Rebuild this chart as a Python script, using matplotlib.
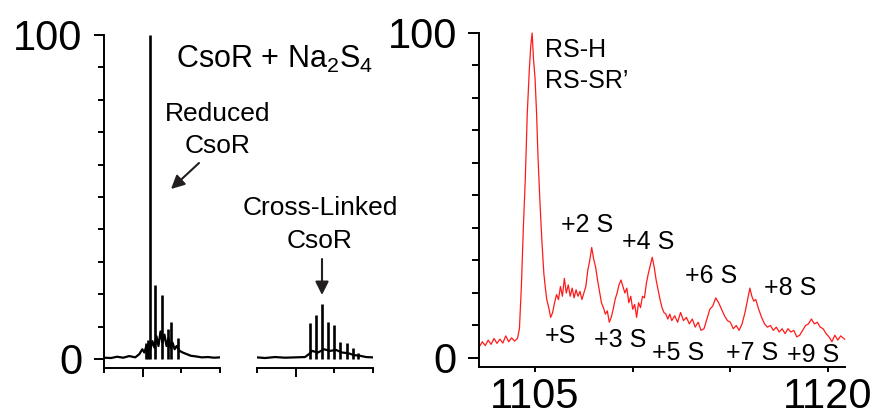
import matplotlib
matplotlib.use("Agg")
import matplotlib.pyplot as plt
from matplotlib.patches import FancyArrowPatch

plt.rcParams['font.family'] = ['Liberation Sans', 'DejaVu Sans']
plt.rcParams['mathtext.fontset'] = 'custom'
plt.rcParams['mathtext.rm'] = 'Liberation Sans'
plt.rcParams['mathtext.it'] = 'Liberation Sans:italic'

# ---- left panel, first segment (reduced CsoR) ----
seg1_base_x = [0.0, 1.83, 3.39, 4.96, 6.52, 8.09, 9.13, 9.91, 10.43, 10.96, 11.48, 12.0,
               12.52, 13.04, 13.57, 14.09, 14.61, 15.13, 15.65, 16.17, 16.70, 17.22,
               17.74, 18.26, 18.78, 19.57, 20.35, 21.39, 22.43, 23.74, 25.30, 26.87,
               28.43, 30.0]
seg1_base_y = [0.4, 0.3, 0.7, 0.4, 0.9, 0.5, 1.5, 3.0, 2.0, 4.0, 2.5, 3.0,
               5.5, 3.5, 7.0, 4.0, 8.5, 5.0, 7.5, 4.0, 6.5, 3.5,
               5.0, 3.0, 4.0, 2.5, 2.0, 1.5, 1.0, 0.8, 0.5, 0.6,
               0.4, 0.5]
seg1_peak_x = [10.83, 11.35, 11.92, 13.30, 14.95, 16.62, 17.40, 19.12]
seg1_peak_y = [5.0, 6.0, 100.0, 22.8, 19.8, 9.3, 11.4, 6.5]

# ---- left panel, second segment (cross-linked CsoR) ----
seg2_base_x = [40.0, 42.07, 44.66, 47.24, 49.83, 52.41, 53.45, 54.22, 55.78, 57.33,
               58.88, 60.43, 61.98, 63.53, 65.09, 66.64, 68.19, 70.0]
seg2_base_y = [0.5, 0.3, 0.6, 0.4, 0.5, 0.6, 1.5, 2.5, 2.0, 3.0,
               2.5, 2.8, 2.0, 1.8, 1.2, 1.0, 0.6, 0.5]
seg2_peak_x = [53.71, 55.18, 56.73, 58.28, 59.91, 61.47, 63.20, 64.83, 66.12]
seg2_peak_y = [11.0, 13.6, 17.0, 11.4, 10.5, 5.2, 5.0, 3.4, 1.8]

# ---- right panel, zoomed spectrum ----
mz = [1102.15, 1102.3, 1102.45, 1102.6, 1102.75, 1102.9, 1103.05, 1103.2, 1103.35, 1103.5,
      1103.65, 1103.8, 1103.95, 1104.1, 1104.2, 1104.3, 1104.4, 1104.5, 1104.6, 1104.7,
      1104.78, 1104.85, 1104.92, 1105.0, 1105.08, 1105.15, 1105.25, 1105.35, 1105.45, 1105.52,
      1105.6, 1105.7, 1105.8, 1105.9, 1106.0, 1106.1, 1106.2, 1106.3, 1106.4, 1106.5,
      1106.6, 1106.7, 1106.8, 1106.9, 1107.0, 1107.1, 1107.2, 1107.3, 1107.4, 1107.5,
      1107.6, 1107.7, 1107.8, 1107.9, 1108.0, 1108.1, 1108.2, 1108.3, 1108.4, 1108.5,
      1108.6, 1108.7, 1108.8, 1108.9, 1109.0, 1109.1, 1109.2, 1109.3, 1109.4, 1109.5,
      1109.6, 1109.7, 1109.8, 1109.9, 1110.0, 1110.1, 1110.2, 1110.3, 1110.4, 1110.5,
      1110.6, 1110.7, 1110.8, 1110.9, 1111.0, 1111.1, 1111.2, 1111.3, 1111.4, 1111.5,
      1111.6, 1111.7, 1111.8, 1111.9, 1112.0, 1112.15, 1112.3, 1112.45, 1112.6, 1112.75,
      1112.9, 1113.05, 1113.2, 1113.35, 1113.5, 1113.65, 1113.8, 1113.95, 1114.1, 1114.25,
      1114.4, 1114.55, 1114.7, 1114.85, 1115.0, 1115.15, 1115.3, 1115.45, 1115.6, 1115.75,
      1115.9, 1116.0, 1116.1, 1116.2, 1116.3, 1116.45, 1116.6, 1116.75, 1116.9, 1117.05,
      1117.2, 1117.35, 1117.5, 1117.65, 1117.8, 1117.95, 1118.1, 1118.25, 1118.4, 1118.55,
      1118.7, 1118.85, 1119.0, 1119.15, 1119.3, 1119.45, 1119.6, 1119.75, 1119.9, 1120.05,
      1120.2, 1120.35, 1120.5, 1120.65, 1120.85]
intensity = [3.5, 5.0, 3.8, 5.5, 4.2, 6.0, 4.5, 5.8, 4.6, 6.8,
             5.0, 6.2, 5.2, 6.0, 9.0, 22, 40, 55, 75, 88,
             96, 100, 92, 86, 75, 62, 48, 36, 26, 22,
             18, 15.5, 12.5, 14, 17, 19.5, 18, 22, 19, 24.5,
             20, 22.5, 19, 21.5, 18.5, 21, 19, 20.5, 18, 20,
             22, 27, 30, 34, 30.5, 28, 24, 20.5, 17, 15.5,
             13.5, 14.5, 11, 12.5, 15, 18, 20, 22.5, 24, 22,
             20, 21.5, 17, 19, 15, 16.5, 12.5, 17, 15.5, 19,
             18.5, 23, 26, 28.5, 31, 28, 24, 21, 18, 15.5,
             14, 13.5, 12, 13.5, 11.5, 13, 11, 14, 11.5, 12.5,
             10.5, 12, 9.5, 11, 8.5, 9, 12, 15, 16, 18.5,
             17, 15, 13, 11.5, 11, 9, 10, 8.5, 10.5, 14,
             18.5, 21.5, 19, 17.5, 18, 15, 12.5, 10.5, 9.5, 10,
             8.5, 9.5, 8, 9, 7.5, 9, 8, 8.5, 6.5, 7,
             8.5, 10, 10.5, 12, 10.5, 11, 9.5, 9, 7.5, 6.5,
             5, 7, 5.5, 6.8, 5.8]

W, H = 881, 408
fig = plt.figure(figsize=(W / 100, H / 100), dpi=100)


def box(x0, x1, ytop, ybot):
    return [x0 / W, 1 - ybot / H, (x1 - x0) / W, (ybot - ytop) / H]


def fpos(x, y):
    return x / W, 1 - y / H


ax1 = fig.add_axes(box(104, 220, 35, 368))
ax2 = fig.add_axes(box(257, 373, 35, 368))
ax3 = fig.add_axes(box(479, 845, 33, 367))

ink = 'black'
ax1.plot(seg1_base_x, seg1_base_y, color=ink, lw=1.6)
ax1.vlines(seg1_peak_x, 0, seg1_peak_y, color=ink, lw=1.9, clip_on=False)
ax2.plot(seg2_base_x, seg2_base_y, color=ink, lw=1.6)
ax2.vlines(seg2_peak_x, 0, seg2_peak_y, color=ink, lw=1.9)
ax3.plot(mz, intensity, color='#ff1a1a', lw=0.9, clip_on=False)

for ax in (ax1, ax2, ax3):
    for s in ('top', 'right'):
        ax.spines[s].set_visible(False)
    for s in ('left', 'bottom'):
        ax.spines[s].set_linewidth(1.4)
    ax.tick_params(which='both', width=1.4, labelsize=30, direction='out')

ax1.set_xlim(0, 30)
ax2.set_xlim(40, 70)
ax1.set_ylim(-2.78, 100)
ax2.set_ylim(-2.78, 100)
ax1.set_xticks([10])
ax1.set_xticks([0, 20, 30], minor=True)
ax2.set_xticks([50])
ax2.set_xticks([40, 60, 70], minor=True)
for ax in (ax1, ax2):
    ax.set_xticklabels([])
    ax.tick_params(axis='x', which='major', length=6.5)
    ax.tick_params(axis='x', which='minor', length=3.6)
ax2.spines['left'].set_visible(False)
ax2.set_yticks([])

ax1.set_yticks([0, 100])
ax1.set_yticks(range(10, 100, 10), minor=True)
ax1.tick_params(axis='y', which='major', length=7.2, pad=8.6)
ax1.tick_params(axis='y', which='minor', length=4.3)

ax3.set_xlim(1102.13, 1120.87)
ax3.set_ylim(-2.77, 100)
ax3.set_xticks([1105, 1110, 1115, 1120])
ax3.set_xticklabels(['1105', '', '', '1120'])
ax3.tick_params(axis='x', length=3.6, pad=3.5)
ax3.set_yticks([0, 100])
ax3.set_yticks(range(10, 100, 10), minor=True)
ax3.tick_params(axis='y', which='major', length=8, pad=8)
ax3.tick_params(axis='y', which='minor', length=5)

# annotations, left panel
fig.text(*fpos(274, 68), r'CsoR + Na$_2$S$_4$', fontsize=22, ha='center', va='baseline')
fig.text(*fpos(218, 121), 'Reduced', fontsize=19, ha='center', va='baseline')
fig.text(*fpos(218, 153), 'CsoR', fontsize=19, ha='center', va='baseline')
fig.text(*fpos(320, 215), 'Cross-Linked', fontsize=19, ha='center', va='baseline')
fig.text(*fpos(320, 248), 'CsoR', fontsize=19, ha='center', va='baseline')
arrow = dict(arrowstyle='-|>', color='#231f20', lw=1.5, mutation_scale=20, shrinkA=0, shrinkB=0)
fig.add_artist(FancyArrowPatch(fpos(199, 163), fpos(171, 189), transform=fig.transFigure, **arrow))
fig.add_artist(FancyArrowPatch(fpos(322, 259), fpos(322, 295), transform=fig.transFigure, **arrow))

# annotations, right panel
fig.text(*fpos(545, 57), 'RS-H', fontsize=18, ha='left', va='baseline')
fig.text(*fpos(545, 88), 'RS-SR\u2019', fontsize=18, ha='left', va='baseline')
s_labels = ['+2 S', '+4 S', '+6 S', '+8 S', '+S', '+3 S', '+5 S', '+7 S', '+9 S']
s_x = [587, 648, 711, 790, 560, 620, 678, 752, 813]
s_y = [232, 249, 283, 295, 343, 347, 360, 360, 362]
for lab, x, y in zip(s_labels, s_x, s_y):
    fig.text(*fpos(x, y), lab, fontsize=18, ha='center', va='baseline')

fig.savefig('out.png', dpi=100)
